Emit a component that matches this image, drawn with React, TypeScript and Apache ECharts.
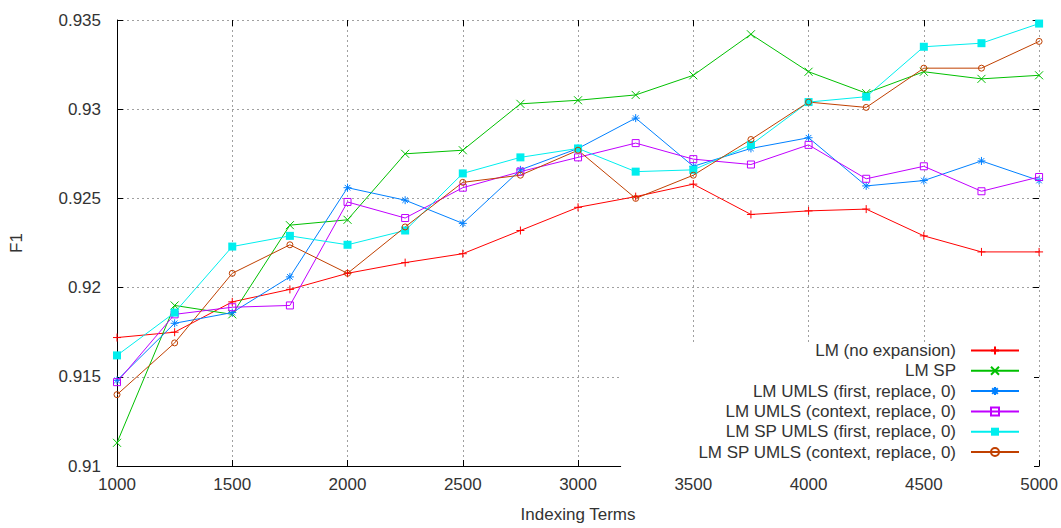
import React, { useEffect, useRef } from "react";
import * as echarts from "echarts";

// Number of indexing terms (x axis)
const indexingTerms = [1000, 1250, 1500, 1750, 2000, 2250, 2500, 2750, 3000, 3250, 3500, 3750, 4000, 4250, 4500, 4750, 5000];

// F1 per configuration
const lmNoExpansion = [0.9172, 0.9175, 0.9192, 0.9199, 0.9208, 0.9214, 0.9219, 0.9232, 0.9245, 0.9251, 0.9258, 0.9241, 0.9243, 0.9244, 0.9229, 0.922, 0.922];
const lmSp = [0.9113, 0.9190, 0.9185, 0.9235, 0.9238, 0.9275, 0.9277, 0.9303, 0.9305, 0.9308, 0.9319, 0.9342, 0.9321, 0.9309, 0.9321, 0.9317, 0.9319];
const lmUmlsFirst = [0.9148, 0.918, 0.9186, 0.9206, 0.9256, 0.9249, 0.9236, 0.9266, 0.9278, 0.9295, 0.9268, 0.9278, 0.9284, 0.9257, 0.926, 0.9271, 0.926];
const lmUmlsContext = [0.9147, 0.9185, 0.9189, 0.919, 0.9248, 0.9239, 0.9256, 0.9265, 0.9273, 0.9281, 0.9272, 0.9269, 0.928, 0.9261, 0.9268, 0.9254, 0.9262];
const lmSpUmlsFirst = [0.9162, 0.9186, 0.9223, 0.9229, 0.9224, 0.9232, 0.9264, 0.9273, 0.9278, 0.9265, 0.9266, 0.928, 0.9304, 0.9307, 0.9335, 0.9337, 0.9348];
const lmSpUmlsContext = [0.914, 0.9169, 0.9208, 0.9224, 0.9208, 0.9234, 0.9259, 0.9263, 0.9277, 0.925, 0.9263, 0.9283, 0.9304, 0.9301, 0.9323, 0.9323, 0.9338];

const seriesNames = [
  "LM (no expansion)",
  "LM SP",
  "LM UMLS (first, replace, 0)",
  "LM UMLS (context, replace, 0)",
  "LM SP UMLS (first, replace, 0)",
  "LM SP UMLS (context, replace, 0)",
];

const xTicks = { min: 1000, max: 5000, interval: 500 };
const yTicks = { min: 0.91, max: 0.935, interval: 0.005 };

const FONT = "'Liberation Sans', Arial, sans-serif";
const TEXT = "#333";

// gnuplot-like point types
const PLUS = "path://M0 5H10M5 0V10";
const CROSS = "path://M0 0L10 10M10 0L0 10";
const STAR = "path://M0 5H10M5 0V10M1.5 1.5L8.5 8.5M8.5 1.5L1.5 8.5";
const BOX = "path://M0 0H10V10H0Z";
const RING = "path://M0 5A5 5 0 1 1 10 5A5 5 0 1 1 0 5Z";

type Style = { color: string; symbol: string; size: number; filled?: boolean };
const styles: Style[] = [
  { color: "#ff0000", symbol: PLUS, size: 8 },
  { color: "#00c000", symbol: CROSS, size: 8 },
  { color: "#0080ff", symbol: STAR, size: 8 },
  { color: "#c000ff", symbol: BOX, size: 7 },
  { color: "#00eeee", symbol: "rect", size: 8, filled: true },
  { color: "#c04000", symbol: RING, size: 6 },
];

const values = [lmNoExpansion, lmSp, lmUmlsFirst, lmUmlsContext, lmSpUmlsFirst, lmSpUmlsContext];

const fmtY = (v: number) => String(+v.toFixed(3));
const fmtX = (v: number) => String(Math.round(v));

export default function App() {
  const ref = useRef<HTMLDivElement>(null);

  useEffect(() => {
    if (!ref.current) return;
    const chart = echarts.init(ref.current, undefined, { renderer: "svg" });

    const tickStyle = { show: true, inside: true, length: 6, lineStyle: { color: "#000", width: 1 } };
    const gridLine = { show: true, lineStyle: { color: "#a0a0a0", type: [2, 3] as any, width: 1 } };

    const series = values.map((vals, i) => {
      const s = styles[i];
      return {
        name: seriesNames[i],
        type: "line",
        xAxisIndex: 0,
        yAxisIndex: 0,
        data: indexingTerms.map((x, k) => [x, vals[k]]),
        symbol: s.symbol,
        symbolSize: s.size,
        showAllSymbol: true,
        lineStyle: { color: s.color, width: 1 },
        itemStyle: s.filled
          ? { color: s.color, borderWidth: 0 }
          : { color: "transparent", borderColor: s.color, borderWidth: 1 },
        emphasis: { disabled: true },
      };
    });

    chart.setOption({
      animation: false,
      textStyle: { fontFamily: FONT },
      grid: { left: 117, right: 20, top: 20, bottom: 60, containLabel: false },
      xAxis: [
        {
          type: "value",
          ...xTicks,
          name: "Indexing Terms",
          nameLocation: "middle",
          nameGap: 40,
          nameTextStyle: { fontSize: 17, color: TEXT, fontFamily: FONT },
          axisLine: { show: true, lineStyle: { color: "#000", width: 1 } },
          axisTick: tickStyle,
          axisLabel: { fontSize: 17, color: TEXT, margin: 10, formatter: fmtX, fontFamily: FONT },
          splitLine: gridLine,
        },
        {
          type: "value",
          position: "top",
          ...xTicks,
          axisLine: { show: false },
          axisTick: tickStyle,
          axisLabel: { show: false },
          splitLine: { show: false },
        },
      ],
      yAxis: [
        {
          type: "value",
          ...yTicks,
          name: "F1",
          nameLocation: "middle",
          nameGap: 92,
          nameTextStyle: { fontSize: 17, color: TEXT, fontFamily: FONT },
          axisLine: { show: true, lineStyle: { color: "#000", width: 1 } },
          axisTick: tickStyle,
          axisLabel: { fontSize: 17, color: TEXT, margin: 16, formatter: fmtY, fontFamily: FONT },
          splitLine: gridLine,
        },
        {
          type: "value",
          position: "right",
          ...yTicks,
          axisLine: { show: false },
          axisTick: tickStyle,
          axisLabel: { show: false },
          splitLine: { show: false },
        },
      ],
      legend: {
        orient: "vertical",
        align: "right",
        right: 27,
        top: 342,
        padding: [0, 14, 7, 77],
        itemWidth: 48,
        itemHeight: 10,
        itemGap: 3.3,
        backgroundColor: "#ffffff",
        selectedMode: false,
        textStyle: { fontSize: 17, color: TEXT, fontFamily: FONT, padding: [0, 10, 0, 0] },
        data: seriesNames,
      },
      series,
    });

    return () => chart.dispose();
  }, []);

  return (
    <div
      ref={ref}
      style={{ position: "fixed", left: 0, top: 0, width: 1061, height: 528, background: "#fff" }}
    />
  );
}
